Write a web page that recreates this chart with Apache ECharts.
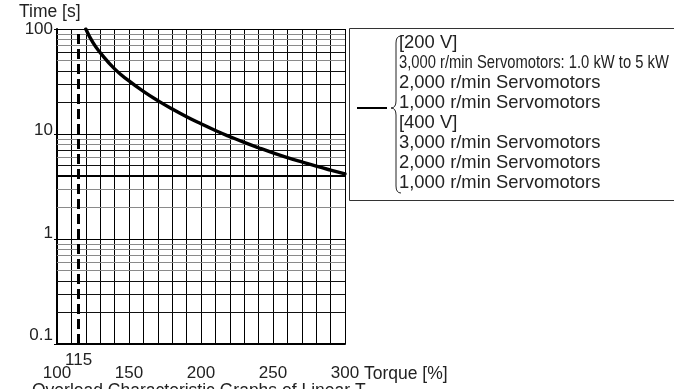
<!DOCTYPE html>
<html>
<head>
<meta charset="utf-8">
<script src="https://cdn.jsdelivr.net/npm/echarts@6/dist/echarts.min.js"></script>
<style>
  html, body { margin: 0; padding: 0; background: #fff; }
  #chart { width: 674px; height: 389px; }
</style>
</head>
<body>
<div id="chart"></div>
<script>
// overload curve (torque % -> time s)
var torque = [120, 125, 130, 140, 150, 160, 170, 180, 190, 200, 210, 220, 230, 240, 250, 260, 270, 280, 290, 300];
var timeSec = [100, 74, 59.6, 41.7, 32, 25.5, 20.8, 17.3, 14.6, 12.5, 10.8, 9.44, 8.32, 7.4, 6.62, 5.97, 5.42, 4.94, 4.53, 4.17];

var xTickLabels = [100, 150, 200, 250, 300];
var yTickLabels = [0.1, 1, 10, 100];
var ratedLimit = 115;
var thickLineValue = 4;

// log paper minor lines
var minorBlack = [0.2, 0.3, 0.4, 5, 7, 20, 30, 40, 60];
var minorGray = [0.5, 0.6, 0.7, 0.8, 0.9, 2, 3, 6, 8, 9, 50, 70, 80, 90];

var legendLines = [
    '[200 V]',
    '3,000 r/min Servomotors: 1.0 kW to 5 kW',
    '2,000 r/min Servomotors',
    '1,000 r/min Servomotors',
    '[400 V]',
    '3,000 r/min Servomotors',
    '2,000 r/min Servomotors',
    '1,000 r/min Servomotors'
];

var FONT = "'Liberation Sans', Arial, sans-serif";
var TXT = '#222';

var dom = document.getElementById('chart');
var myChart = echarts.init(dom, null, { renderer: 'canvas' });

var curveData = torque.map(function (t, i) { return [t, timeSec[i]]; });

var gridMarks = [];
minorGray.forEach(function (v) {
    gridMarks.push({ yAxis: v, lineStyle: { color: '#8a8a8a', width: 1, type: 'solid' } });
});
minorBlack.forEach(function (v) {
    gridMarks.push({ yAxis: v, lineStyle: { color: '#111', width: 1, type: 'solid' } });
});
gridMarks.push({ yAxis: thickLineValue, lineStyle: { color: '#000', width: 2.2, type: 'solid' } });
gridMarks.push({
    xAxis: ratedLimit,
    lineStyle: { color: '#000', width: 3, type: [10, 5] },
    label: {
        show: true, position: 'start', distance: 8,
        formatter: String(ratedLimit),
        color: TXT, fontFamily: FONT, fontSize: 17
    }
});

// label vertical nudges, like the printed chart
var yLabelLift = { '100': 0, '10': 4, '1': 6, '0.1': 9 };

// legend box + brace
var braceStyle = { stroke: '#222', lineWidth: 1, fill: null };
var legendGraphics = [
    {
        type: 'rect',
        shape: { x: 349.5, y: 28.5, width: 340, height: 172 },
        style: { fill: '#fff', stroke: '#333', lineWidth: 1 },
        z: 10
    },
    {
        type: 'line',
        shape: { x1: 357, y1: 108, x2: 387, y2: 108 },
        style: { stroke: '#000', lineWidth: 2 },
        z: 11
    },
    { type: 'bezierCurve', shape: { x1: 401, y1: 36, cpx1: 396, cpy1: 36, x2: 396, y2: 43 }, style: braceStyle, z: 11 },
    { type: 'line', shape: { x1: 396, y1: 43, x2: 396, y2: 101 }, style: braceStyle, z: 11 },
    { type: 'bezierCurve', shape: { x1: 396, y1: 101, cpx1: 396, cpy1: 108, x2: 391, y2: 108 }, style: braceStyle, z: 11 },
    { type: 'bezierCurve', shape: { x1: 391, y1: 108, cpx1: 396, cpy1: 108, x2: 396, y2: 115 }, style: braceStyle, z: 11 },
    { type: 'line', shape: { x1: 396, y1: 115, x2: 396, y2: 186 }, style: braceStyle, z: 11 },
    { type: 'bezierCurve', shape: { x1: 396, y1: 186, cpx1: 396, cpy1: 193, x2: 401, y2: 193 }, style: braceStyle, z: 11 }
];
legendLines.forEach(function (txt, i) {
    var narrow = i === 1;
    legendGraphics.push({
        type: 'text',
        x: 399,
        y: 43 + i * 20,
        scaleX: narrow ? 0.83 : 1,
        style: {
            text: txt,
            fill: TXT,
            font: narrow ? '17.8px ' + FONT : '18.4px ' + FONT,
            verticalAlign: 'middle',
            align: 'left'
        },
        z: 12
    });
});
legendGraphics.push({
    type: 'text', x: 19, y: 3,
    style: { text: 'Time [s]', fill: TXT, font: '17.5px ' + FONT, verticalAlign: 'top' }
});
legendGraphics.push({
    type: 'text', x: 364, y: 365,
    style: { text: 'Torque [%]', fill: TXT, font: '17.5px ' + FONT, verticalAlign: 'top' }
});
legendGraphics.push({
    type: 'text', x: 32, y: 382,
    style: { text: 'Overload Characteristic Graphs of Linear T', fill: TXT, font: '17.5px ' + FONT, verticalAlign: 'top' }
});

myChart.setOption({
    backgroundColor: '#fff',
    animation: false,
    grid: {
        left: 57,
        top: 29,
        width: 288,
        height: 315,
        containLabel: false
    },
    xAxis: {
        type: 'value',
        min: 100,
        max: 300,
        interval: 10,
        axisLine: { show: true, lineStyle: { color: '#000', width: 2 } },
        axisTick: { show: false },
        axisLabel: {
            margin: 21,
            color: TXT,
            fontFamily: FONT,
            fontSize: 17,
            formatter: function (v) {
                return xTickLabels.indexOf(v) >= 0 ? String(v) : '';
            }
        },
        splitLine: { show: true, lineStyle: { color: '#000', width: 1 } }
    },
    yAxis: {
        type: 'log',
        logBase: 10,
        min: 0.1,
        max: 100,
        axisLine: { show: true, onZero: false, lineStyle: { color: '#000', width: 2 } },
        axisTick: { show: true, length: 3, lineStyle: { color: '#000' } },
        axisLabel: {
            margin: 4,
            color: TXT,
            fontFamily: FONT,
            fontSize: 17,
            formatter: function (v) {
                var s = v < 1 ? '0.1' : String(Math.round(v));
                if (yTickLabels.indexOf(Number(s)) < 0) return '';
                var lift = yLabelLift[s] || 0;
                return '{l' + lift + '|' + s + '}';
            },
            rich: {
                l0: { fontFamily: FONT, fontSize: 17, color: TXT, padding: [0, 0, 0, 0] },
                l4: { fontFamily: FONT, fontSize: 17, color: TXT, padding: [0, 0, 8, 0] },
                l6: { fontFamily: FONT, fontSize: 17, color: TXT, padding: [0, 0, 12, 0] },
                l9: { fontFamily: FONT, fontSize: 17, color: TXT, padding: [0, 0, 18, 0] }
            }
        },
        splitLine: { show: true, lineStyle: { color: '#000', width: 1 } }
    },
    series: [
        {
            name: 'Overload',
            type: 'line',
            data: curveData,
            smooth: 0.5,
            showSymbol: false,
            symbol: 'none',
            clip: true,
            lineStyle: { color: '#000', width: 3.4, cap: 'round', join: 'round' },
            z: 5,
            markLine: {
                silent: true,
                symbol: ['none', 'none'],
                animation: false,
                label: { show: false },
                emphasis: { disabled: true },
                data: gridMarks
            }
        }
    ],
    graphic: legendGraphics
});

window.addEventListener('resize', function () {
    myChart.resize();
});
</script>
</body>
</html>
